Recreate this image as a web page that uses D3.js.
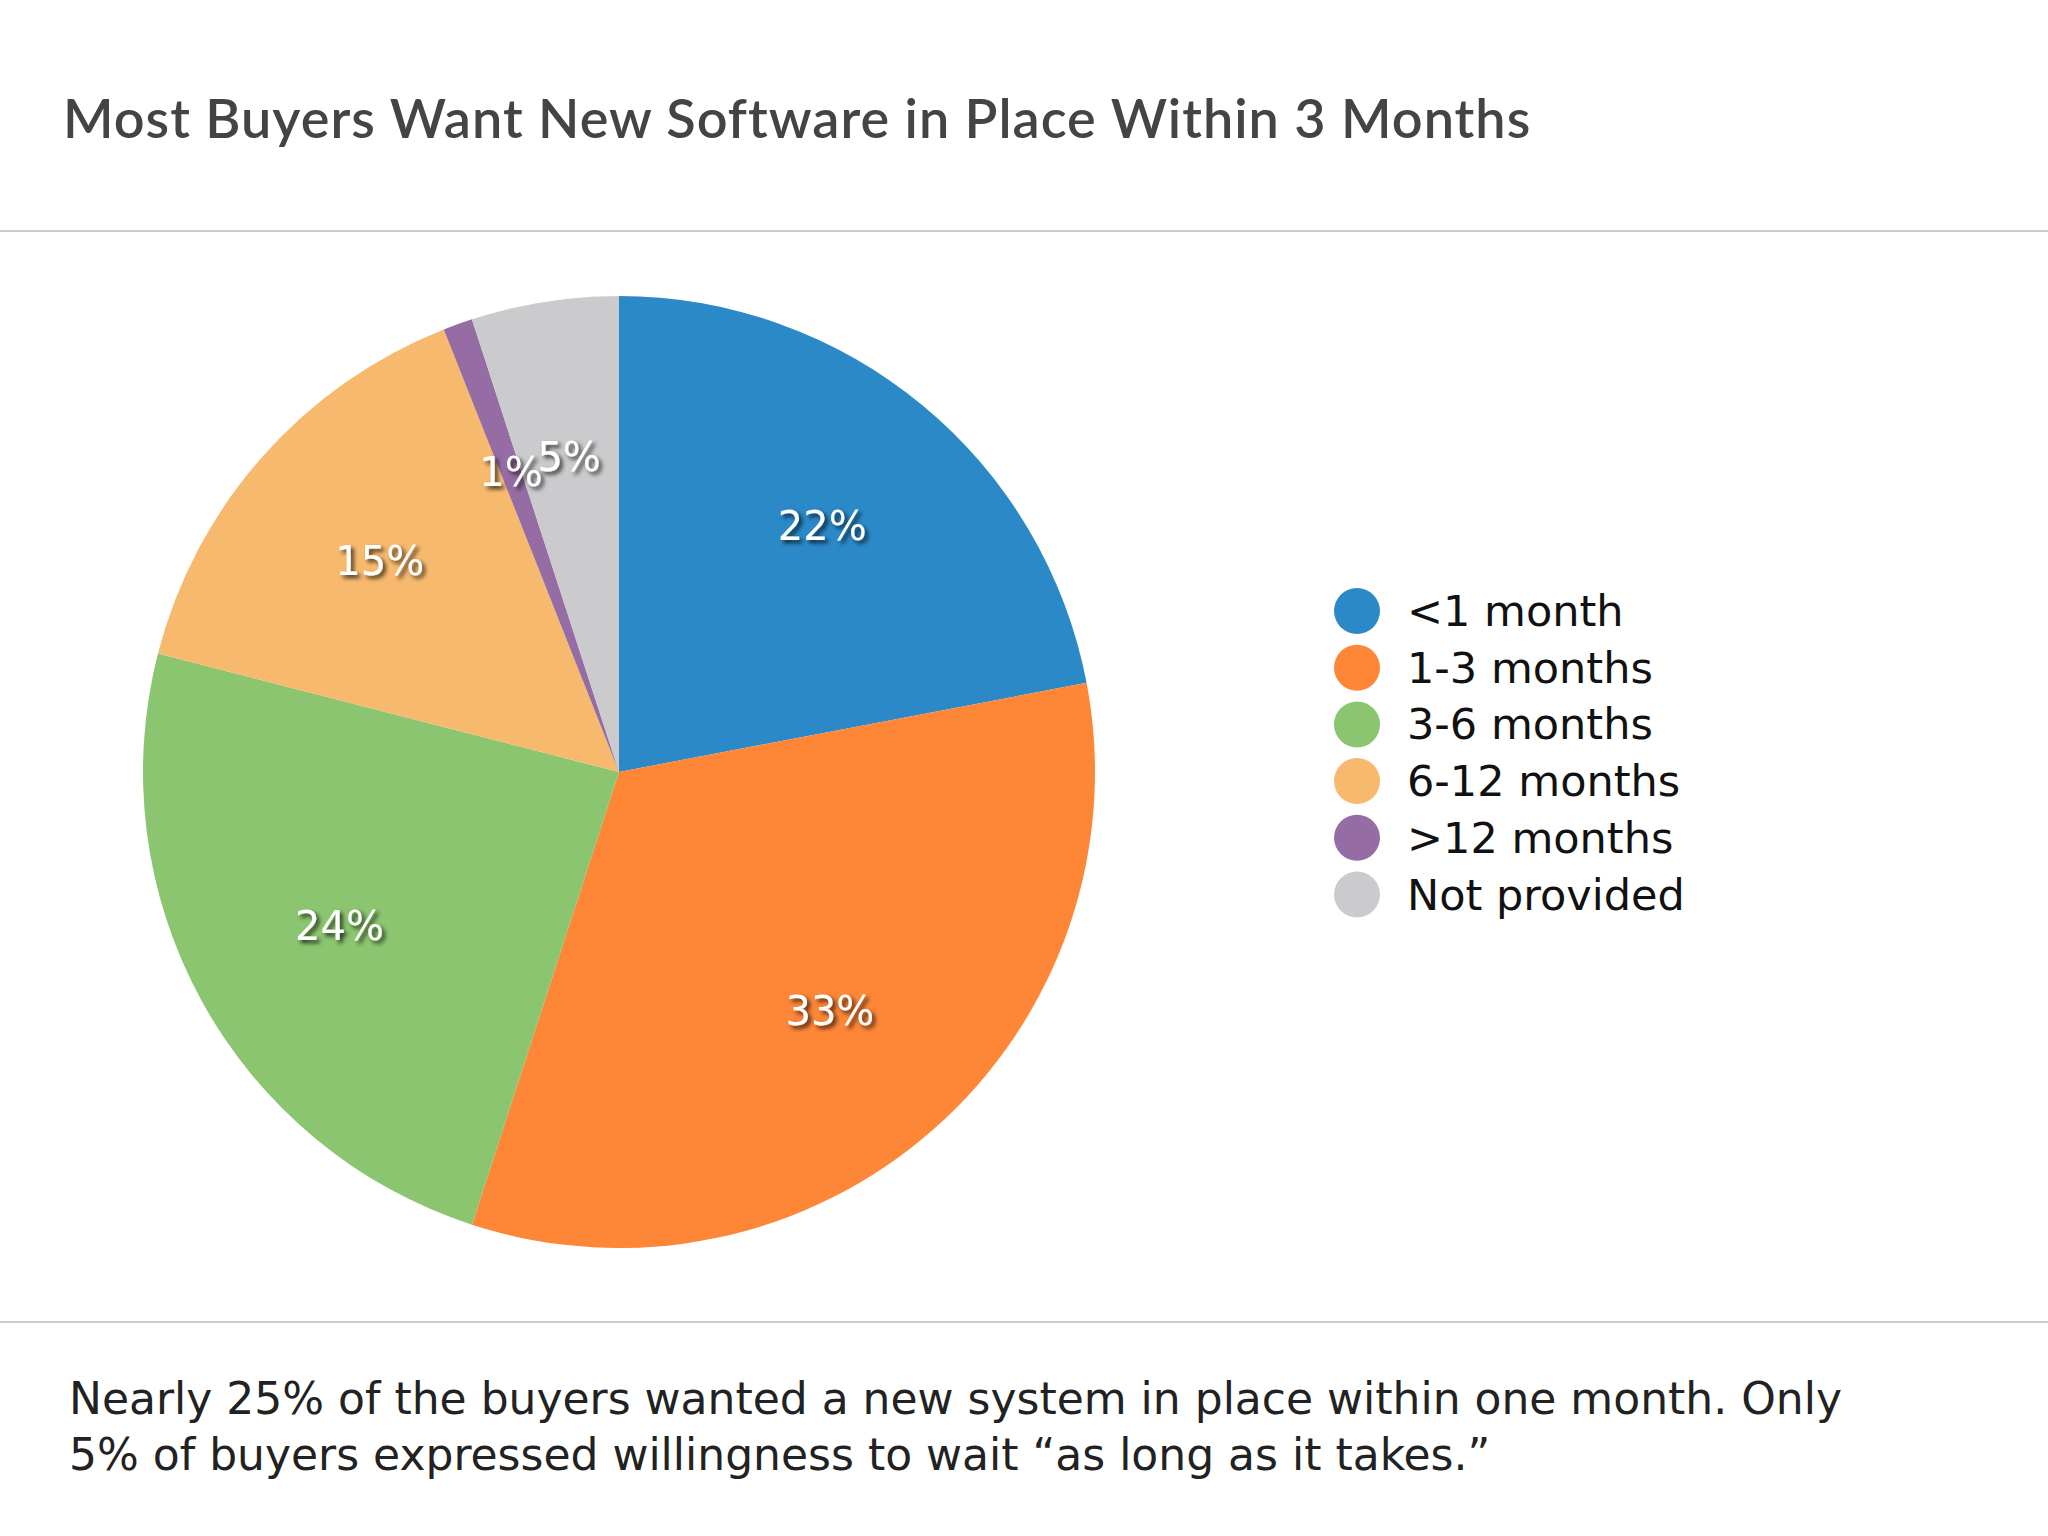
<!DOCTYPE html>
<html><head><meta charset="utf-8">
<script src="https://cdn.jsdelivr.net/npm/d3@7"></script>
<style>body{margin:0;background:#fff}</style></head>
<body><svg id="c" width="2048" height="1536"></svg>
<script>
const categories = ["<1 month","1-3 months","3-6 months","6-12 months",">12 months","Not provided"];
const values = [22,33,24,15,1,5];
const colors = ["#2b89c8","#fd8637","#8bc56f","#f7b96d","#956ca3","#cbcacd"];
const labels = ["22%","33%","24%","15%","1%","5%"];
const title = "Most Buyers Want New Software in Place Within 3 Months";
const footer = ["Nearly 25% of the buyers wanted a new system in place within one month. Only","5% of buyers expressed willingness to wait \u201cas long as it takes.\u201d"];

const svg = d3.select("#c");
const defs = svg.append("defs");
const f = defs.append("filter").attr("id","sh").attr("x","-20%").attr("y","-20%").attr("width","150%").attr("height","150%");
f.append("feDropShadow").attr("dx",3).attr("dy",3).attr("stdDeviation",2).attr("flood-color","#000").attr("flood-opacity",0.75);

svg.append("text").attr("x",63).attr("y",138).text(title)
  .attr("font-family","Lato, 'Open Sans', sans-serif").attr("font-size",54).attr("font-weight",600).attr("fill","#444").attr("letter-spacing",1);
svg.append("line").attr("x1",0).attr("x2",2048).attr("y1",231).attr("y2",231).attr("stroke","#ccc").attr("stroke-width",2);
svg.append("line").attr("x1",0).attr("x2",2048).attr("y1",1322).attr("y2",1322).attr("stroke","#ccc").attr("stroke-width",2);

const cx=619, cy=772, R=476;
const pie = d3.pie().sort(null).value(d=>d)(values);
const arc = d3.arc().innerRadius(0).outerRadius(R);
const g = svg.append("g").attr("transform",`translate(${cx},${cy})`);
g.selectAll("path").data(pie).join("path").attr("d",arc).attr("fill",(d,i)=>colors[i]);
const la = d3.arc().innerRadius(R*0.67).outerRadius(R*0.67);
g.selectAll("text").data(pie).join("text")
  .attr("transform",(d,i)=>{const c=la.centroid(d);return `translate(${c[0]},${c[1]})`;})
  .attr("dy","0.35em").attr("text-anchor","middle").text((d,i)=>labels[i])
  .attr("font-family","'DejaVu Sans', Verdana, sans-serif").attr("font-size",40).attr("fill","#fff").attr("filter","url(#sh)");

const lg = svg.append("g").attr("transform","translate(1357,611)");
categories.forEach((c,i)=>{
  const row = lg.append("g").attr("transform",`translate(0,${i*56.7})`);
  row.append("circle").attr("r",23).attr("fill",colors[i]);
  row.append("text").attr("x",50).attr("dy","0.35em").text(c)
    .attr("font-family","'DejaVu Sans', Verdana, sans-serif").attr("font-size",43).attr("fill","#111");
});
footer.forEach((t,i)=>svg.append("text").attr("x",69).attr("y",1414+i*56).text(t)
  .attr("font-family","'DejaVu Sans', Verdana, sans-serif").attr("font-size",44).attr("fill","#222"));
</script></body></html>
